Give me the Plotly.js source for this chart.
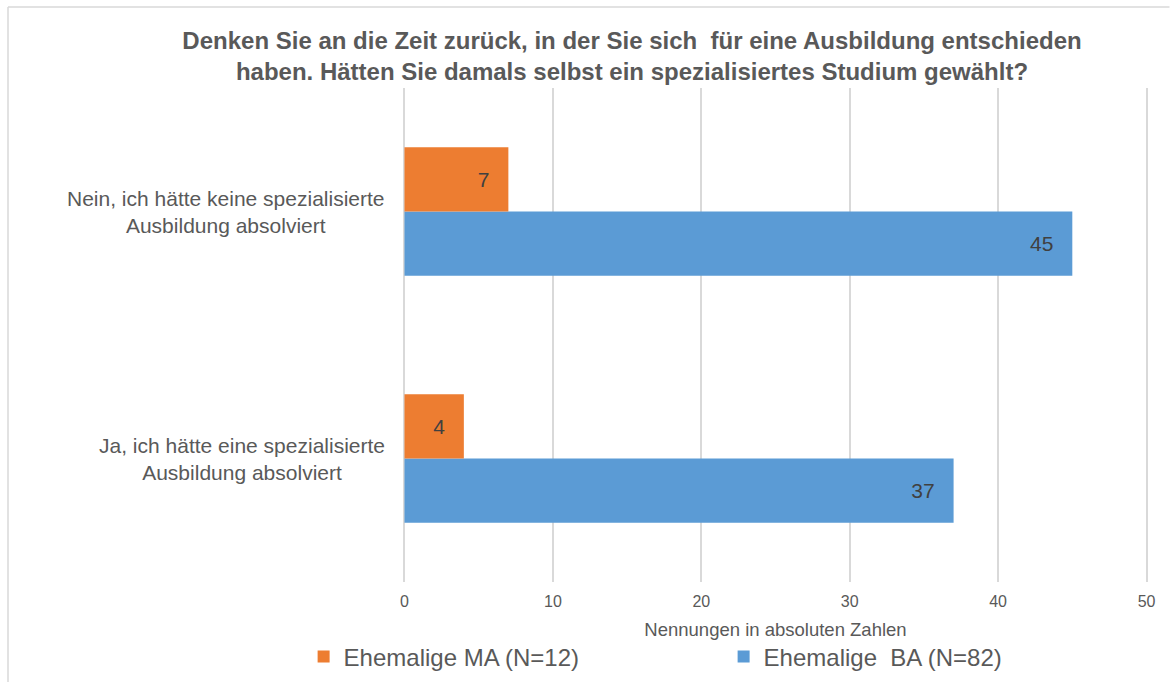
<!DOCTYPE html>
<html>
<head>
<meta charset="utf-8">
<script src="https://cdn.plot.ly/plotly-3.0.1.min.js"></script>
<style>
  html, body { margin: 0; padding: 0; background: #ffffff; }
  #chart { width: 1170px; height: 682px; }
</style>
</head>
<body>
<div id="chart"></div>
<script>
// ---- data ----
var categories = [
  "Ja, ich hätte eine spezialisierte Ausbildung absolviert",
  "Nein, ich hätte keine spezialisierte Ausbildung absolviert"
];
var categoryLabels = [
  "Ja, ich hätte eine spezialisierte<br>Ausbildung absolviert",
  "Nein, ich hätte keine spezialisierte<br>Ausbildung absolviert"
];
var seriesNames = ["Ehemalige MA (N=12)", "Ehemalige  BA (N=82)"];
var valuesMA = [4, 7];
var valuesBA = [37, 45];
var xTicks = [0, 10, 20, 30, 40, 50];
var titleText = "Denken Sie an die Zeit zurück, in der Sie sich  für eine Ausbildung entschieden<br>haben. Hätten Sie damals selbst ein spezialisiertes Studium gewählt?";
var xTitle = "Nennungen in absoluten Zahlen";

// ---- geometry helpers (plot area in px) ----
var W = 1170, H = 682;
var X0 = 404, X50 = 1147;          // pixel of value 0 and value 50
var pad = 0.1;                      // small range padding so edge gridlines are drawn
var unit = (X50 - X0) / 50;
var L = X0 - pad * unit, R = X50 + pad * unit, T = 88, B = 582;
function px(x) { return (x - L) / (R - L); }
function py(y) { return (B - y) / (B - T); }

var FONT = "Liberation Sans, Arial, sans-serif";
var GREY = "#595959";

var traceBA = {
  type: "bar", orientation: "h",
  name: seriesNames[1],
  y: categories, x: valuesBA,
  marker: { color: "#5B9BD5", line: { width: 0 } },
  texttemplate: "%{x}\u00a0\u00a0\u2009",
  textposition: "inside", insidetextanchor: "end",
  textfont: { family: FONT, size: 21, color: "#404040" },
  constraintext: "none",
  legendrank: 2,
  hoverinfo: "x+y+name"
};
var traceMA = {
  type: "bar", orientation: "h",
  name: seriesNames[0],
  y: categories, x: valuesMA,
  marker: { color: "#ED7D31", line: { width: 0 } },
  texttemplate: "%{x}\u00a0\u00a0\u2009",
  textposition: "inside", insidetextanchor: "end",
  textfont: { family: FONT, size: 21, color: "#404040" },
  constraintext: "none",
  legendrank: 1,
  hoverinfo: "x+y+name"
};

var annotations = categories.map(function (c, i) {
  return {
    xref: "paper", yref: "y",
    x: px(386), y: c,
    xanchor: "right", yanchor: "middle",
    align: "center",
    text: categoryLabels[i],
    showarrow: false,
    font: { family: FONT, size: 21, color: GREY }
  };
});

var layout = {
  width: W, height: H,
  margin: { l: L, r: W - R, t: T, b: H - B, pad: 0, autoexpand: false },
  paper_bgcolor: "#ffffff",
  plot_bgcolor: "#ffffff",
  font: { family: FONT, color: GREY },
  title: {
    text: titleText,
    font: { family: FONT, size: 24, color: GREY, weight: "bold" },
    xref: "container", yref: "container",
    x: 632 / W, xanchor: "center",
    y: 1 - 49 / H, yanchor: "top"
  },
  barmode: "group",
  bargap: 0.48,
  bargroupgap: 0,
  xaxis: {
    range: [-pad, 50 + pad],
    tickvals: xTicks,
    ticktext: xTicks.map(String),
    showgrid: true, gridcolor: "#D9D9D9", gridwidth: 2,
    zeroline: false, showline: false,
    ticks: "", ticklabelstandoff: 8,
    tickfont: { family: FONT, size: 16, color: GREY },
    title: { text: xTitle, font: { family: FONT, size: 18.5, color: GREY }, standoff: 14 },
    automargin: true,
    fixedrange: true
  },
  yaxis: {
    type: "category",
    categoryorder: "array", categoryarray: categories,
    range: [-0.5, 1.5],
    showticklabels: false,
    showgrid: false, zeroline: false, showline: false,
    ticks: "",
    automargin: false,
    fixedrange: true
  },
  showlegend: true,
  legend: {
    orientation: "h",
    x: px(303), xanchor: "left",
    y: py(657), yanchor: "middle",
    font: { family: FONT, size: 24, color: GREY },
    entrywidth: 375, entrywidthmode: "pixels",
    itemclick: false, itemdoubleclick: false,
    bgcolor: "rgba(0,0,0,0)"
  },
  annotations: annotations,
  shapes: [
    { type: "line", xref: "paper", yref: "paper", x0: px(7), x1: px(1170), y0: py(7), y1: py(7),
      line: { color: "#D9D9D9", width: 1.5 } },
    { type: "line", xref: "paper", yref: "paper", x0: px(7), x1: px(7), y0: py(7), y1: py(682),
      line: { color: "#D9D9D9", width: 1.5 } }
  ]
};

Plotly.newPlot("chart", [traceBA, traceMA], layout, { displayModeBar: false, staticPlot: true });
</script>
</body>
</html>
